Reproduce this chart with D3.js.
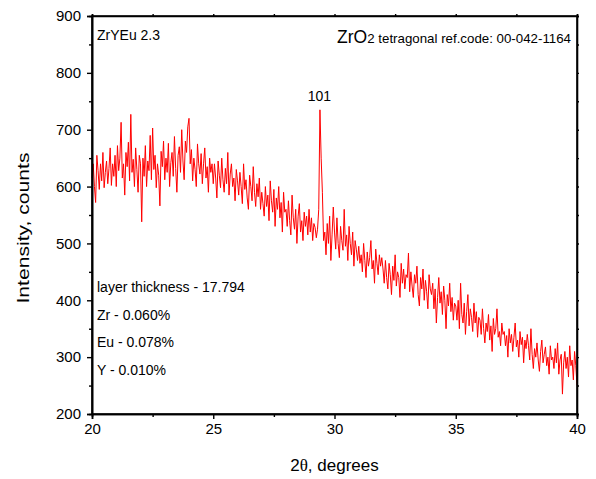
<!DOCTYPE html>
<html><head><meta charset="utf-8">
<script src="https://cdn.jsdelivr.net/npm/d3@7"></script>
<style>body{margin:0;background:#fff}svg{display:block}text{font-family:"Liberation Sans",Arial,sans-serif;fill:#000}</style>
</head><body><svg id="c" width="596" height="479"></svg>
<script>
const angleStart = 20, angleStep = 0.05;
const intensity = [
615,640,600,572,655,628,595,640,610,660,598,625,645,605,632,668,602,640,618,655,
600,672,628,650,713,615,640,585,660,635,678,610,727,625,648,600,668,630,590,655,
640,538,650,618,672,600,645,628,690,612,703,630,655,598,640,620,566,662,635,680,
612,650,625,676,600,642,660,618,688,632,590,655,670,625,700,645,612,680,660,705,
720,640,665,610,650,630,600,675,640,622,658,605,640,668,615,635,590,650,625,640,
605,640,615,580,645,620,598,650,612,590,632,605,660,585,622,640,600,615,575,630,
610,585,625,600,570,640,595,612,580,560,620,600,575,635,590,565,605,582,615,560,
590,570,548,600,565,585,540,610,575,555,595,530,580,560,600,545,572,520,590,555,
560,530,575,540,515,585,545,525,560,500,548,570,520,540,505,555,530,548,515,560,
520,545,505,535,528,510,525,560,735,650,590,505,520,480,535,500,548,470,515,564,
520,490,545,500,475,530,505,488,560,495,515,470,530,500,480,520,460,505,490,470,
495,465,480,450,500,470,440,485,460,475,505,455,470,430,490,465,445,480,460,475,
455,430,470,440,420,465,445,410,460,435,480,425,450,440,405,465,430,455,420,445,
440,483,415,450,425,405,445,430,460,410,390,440,420,455,400,435,415,385,445,420,
410,430,385,420,360,405,440,395,415,375,425,400,350,410,390,430,380,405,365,395,
390,365,400,350,430,375,360,395,340,380,410,355,385,370,345,395,360,380,335,370,
365,340,385,350,325,360,345,375,330,355,310,368,340,350,385,335,345,320,360,340,
345,320,338,300,350,325,340,310,335,360,318,330,300,345,322,335,290,330,315,340,
320,295,350,305,280,315,300,325,295,275,310,330,290,305,318,285,300,270,320,295,
300,280,315,290,325,270,295,305,235,290,310,280,300,265,320,285,295,260,310,285,
250];
const xTicks = [20,25,30,35,40];
const xMinor = [22.5,27.5,32.5,37.5];
const yTicks = [200,300,400,500,600,700,800,900];
const yMinor = [250,350,450,550,650,750,850];
const notes = ["layer thickness - 17.794","Zr - 0.060%","Eu - 0.078%","Y - 0.010%"];
const peakLabel = {angle:29.42, value:735, text:"101"};

const svg = d3.select("#c");
const L=92,R=577,T=16,B=414;
const x = d3.scaleLinear().domain([20,40]).range([L,R]);
const y = d3.scaleLinear().domain([200,900]).range([B,T]);

// data line
const line = d3.line().x((d,i)=>x(angleStart+i*angleStep)).y(d=>y(d));
svg.append("path").datum(intensity).attr("d",line).attr("fill","none")
  .attr("stroke","#ff0000").attr("stroke-width",1).attr("stroke-linejoin","round");

// bottom
svg.append("g").attr("transform",`translate(0,${B})`)
  .call(d3.axisBottom(x).tickValues(xTicks).tickSize(5).tickPadding(4).tickFormat(d3.format("d")));
svg.append("g").attr("transform",`translate(0,${B})`)
  .call(d3.axisBottom(x).tickValues(xMinor).tickSize(3).tickFormat(""));
// left
svg.append("g").attr("transform",`translate(${L},0)`)
  .call(d3.axisLeft(y).tickValues(yTicks).tickSize(5).tickPadding(6).tickFormat(d3.format("d")));
svg.append("g").attr("transform",`translate(${L},0)`)
  .call(d3.axisLeft(y).tickValues(yMinor).tickSize(3).tickFormat(""));
// top mirror
svg.append("g").attr("transform",`translate(0,${T})`)
  .call(d3.axisTop(x).tickValues(xTicks.concat(xMinor)).tickSize(2).tickFormat(""));
// right mirror
svg.append("g").attr("transform",`translate(${R},0)`)
  .call(d3.axisRight(y).tickValues(yTicks.concat(yMinor)).tickSize(2).tickFormat(""));

svg.selectAll(".domain").attr("stroke","#000").attr("stroke-width",1.6);
svg.selectAll(".tick line").attr("stroke","#000").attr("stroke-width",1.4);
svg.selectAll(".tick text").attr("font-size",15).attr("font-family","Liberation Sans, Arial, sans-serif").attr("fill","#000");
// frame
svg.append("rect").attr("x",L).attr("y",T).attr("width",R-L).attr("height",B-T)
  .attr("fill","none").attr("stroke","#000").attr("stroke-width",1.6);

// axis titles
const xt = svg.append("text").attr("x",(L+R)/2).attr("y",471).attr("text-anchor","middle").attr("font-size",17);
xt.append("tspan").text("2");
xt.append("tspan").attr("font-family","Liberation Serif, serif").text("θ");
xt.append("tspan").text(", degrees");
svg.append("text").attr("transform","translate(29,228) rotate(-90)").attr("text-anchor","middle")
  .attr("font-size",17).attr("textLength",151).attr("lengthAdjust","spacingAndGlyphs").text("Intensity, counts");

// annotations
svg.append("text").attr("x",97).attr("y",40).attr("font-size",14).text("ZrYEu 2.3");
const ref = svg.append("text").attr("x",571).attr("y",43).attr("text-anchor","end");
ref.append("tspan").attr("font-size",17.5).text("ZrO");
ref.append("tspan").attr("font-size",13.3).text("2 tetragonal ref.code: 00-042-1164");
svg.append("text").attr("x",x(peakLabel.angle)-1).attr("y",y(peakLabel.value)-9).attr("text-anchor","middle")
  .attr("font-size",14).text(peakLabel.text);
svg.selectAll(".note").data(notes).enter().append("text").attr("class","note")
  .attr("x",97).attr("y",(d,i)=>292+i*27.7).attr("font-size",14).text(d=>d);
</script></body></html>
